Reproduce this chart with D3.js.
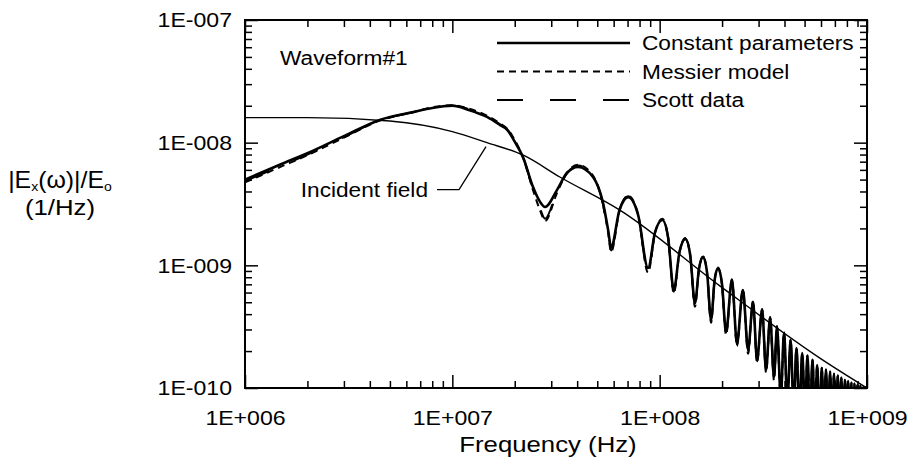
<!DOCTYPE html>
<html>
<head>
<meta charset="utf-8">
<script src="https://cdn.jsdelivr.net/npm/d3@7"></script>
<style>
  body { margin: 0; background: #fff; }
  svg { display: block; }
  text { font-family: "Liberation Sans", Arial, Helvetica, sans-serif; fill: #000; }
</style>
</head>
<body>
<svg id="chart" width="914" height="463"></svg>
<script>
// Axis ticks
const xTickValues = [1e6, 1e7, 1e8, 1e9];
const xTickLabels = ["1E+006", "1E+007", "1E+008", "1E+009"];
const yTickValues = [1e-10, 1e-9, 1e-8, 1e-7];
const yTickLabels = ["1E-010", "1E-009", "1E-008", "1E-007"];

// Incident field spectrum (Hz, 1/Hz)
const incidentFreq = [1e6, 2e6, 5e6, 1e7, 1.47e7, 2.2e7, 3.3e7, 6.4e7, 1.95e8, 6e8, 1e9];
const incidentMag  = [1.6e-8, 1.6e-8, 1.5e-8, 1.23e-8, 1.0e-8, 7.9e-9, 5.25e-9, 2.83e-9, 6.8e-10, 1.73e-10, 1.0e-10];

// Frequencies shared by the three response curves (Hz)
const responseFreq = [
  1e6, 1.5e6, 2e6, 3e6, 4.5e6, 6.5e6, 8e6, 1e7, 1.2e7, 1.47e7, 1.7e7, 1.84e7, 2.0e7, 2.19e7, 2.45e7, 2.65e7, 2.8e7,
  3.2e7, 3.57e7, 4.04e7, 4.77e7, 5.33e7, 5.64e7, 5.83e7, 6.41e7, 7.05e7, 7.87e7, 8.79e7, 9.51e7, 1.03e8, 1.098e8,
  1.17e8, 1.247e8, 1.33e8, 1.403e8, 1.48e8, 1.548e8, 1.62e8, 1.693e8, 1.77e8, 1.839e8, 1.91e8, 1.998e8, 2.09e8,
  2.23e8, 2.36e8, 2.52e8, 2.67e8, 2.82e8, 2.95e8, 3.12e8, 3.26e8, 3.41e8, 3.56e8, 3.68e8, 3.84e8,
  3.98e8, 4.13e8, 4.28e8, 4.43e8, 4.57e8, 4.72e8, 4.87e8, 5.02e8, 5.16e8, 5.31e8, 5.46e8, 5.61e8, 5.75e8, 5.90e8,
  6.05e8, 6.20e8, 6.34e8, 6.49e8, 6.64e8, 6.79e8, 6.93e8, 7.08e8, 7.23e8, 7.38e8, 7.52e8, 7.67e8, 7.82e8, 7.97e8,
  8.11e8, 8.26e8, 8.41e8, 8.56e8, 8.70e8, 8.85e8, 9.00e8, 9.15e8, 9.29e8, 9.44e8, 9.59e8, 9.74e8, 9.88e8, 1e9
];

// Constant parameters model (1/Hz)
const constantMag = [
  5.0e-9, 6.7e-9, 8.2e-9, 1.13e-8, 1.54e-8, 1.78e-8, 1.92e-8, 2.0e-8, 1.85e-8, 1.62e-8, 1.39e-8, 1.27e-8, 1.02e-8, 7.64e-9, 4.35e-9, 3.29e-9, 2.99e-9,
  4.12e-9, 5.66e-9, 6.34e-9, 5.25e-9, 3.23e-9, 1.95e-9, 1.41e-9, 2.85e-9, 3.6e-9, 2.58e-9, 9.5e-10, 1.87e-9, 2.34e-9, 1.69e-9,
  6.3e-10, 1.29e-9, 1.64e-9, 1.22e-9, 4.94e-10, 9.4e-10, 1.17e-9, 8.7e-10, 3.59e-10, 7.46e-10, 9.5e-10, 7.05e-10, 2.86e-10,
  7.6e-10, 2.33e-10, 6.3e-10, 2.05e-10, 5.04e-10, 1.69e-10, 4.33e-10, 1.41e-10, 3.73e-10, 1.23e-10, 3.15e-10, 8.5e-11,
  2.81e-10, 7.5e-11, 2.47e-10, 6.8e-11, 2.12e-10, 6.2e-11, 1.93e-10, 5.9e-11, 1.83e-10, 5.5e-11, 1.69e-10, 5.1e-11, 1.54e-10, 4.9e-11,
  1.46e-10, 4.7e-11, 1.40e-10, 4.5e-11, 1.35e-10, 4.4e-11, 1.30e-10, 4.3e-11, 1.26e-10, 4.2e-11, 1.21e-10, 4.1e-11, 1.16e-10, 4.0e-11,
  1.14e-10, 3.9e-11, 1.10e-10, 3.8e-11, 1.08e-10, 3.8e-11, 1.06e-10, 3.7e-11, 1.04e-10, 3.7e-11, 1.02e-10, 3.6e-11, 1.01e-10, 8e-11
];

// Messier model (1/Hz)
const messierMag = [
  4.75e-9, 6.4e-9, 7.9e-9, 1.1e-8, 1.52e-8, 1.78e-8, 1.94e-8, 2.02e-8, 1.9e-8, 1.66e-8, 1.43e-8, 1.3e-8, 1.05e-8, 7.6e-9, 4.1e-9, 2.8e-9, 2.3e-9,
  3.9e-9, 5.7e-9, 6.6e-9, 5.4e-9, 3.1e-9, 1.85e-9, 1.28e-9, 2.8e-9, 3.7e-9, 2.6e-9, 8.7e-10, 1.85e-9, 2.4e-9, 1.7e-9,
  5.9e-10, 1.28e-9, 1.67e-9, 1.22e-9, 4.6e-10, 9.3e-10, 1.19e-9, 8.7e-10, 3.4e-10, 7.4e-10, 9.6e-10, 7.0e-10, 2.7e-10,
  7.7e-10, 2.2e-10, 6.4e-10, 1.9e-10, 5.1e-10, 1.6e-10, 4.4e-10, 1.33e-10, 3.8e-10, 1.15e-10, 3.2e-10, 8.0e-11,
  2.85e-10, 7.2e-11, 2.5e-10, 6.6e-11, 2.15e-10, 6.0e-11, 1.95e-10, 5.7e-11, 1.85e-10, 5.3e-11, 1.71e-10, 5.0e-11, 1.56e-10, 4.8e-11,
  1.48e-10, 4.6e-11, 1.42e-10, 4.4e-11, 1.37e-10, 4.3e-11, 1.31e-10, 4.2e-11, 1.27e-10, 4.1e-11, 1.22e-10, 4.0e-11, 1.17e-10, 3.9e-11,
  1.15e-10, 3.8e-11, 1.11e-10, 3.7e-11, 1.09e-10, 3.7e-11, 1.07e-10, 3.6e-11, 1.05e-10, 3.6e-11, 1.03e-10, 3.5e-11, 1.02e-10, 8e-11
];

// Scott data (1/Hz)
const scottMag = [
  4.85e-9, 6.5e-9, 8.0e-9, 1.11e-8, 1.53e-8, 1.77e-8, 1.93e-8, 2.01e-8, 1.88e-8, 1.64e-8, 1.41e-8, 1.28e-8, 1.03e-8, 7.7e-9, 4.2e-9, 2.9e-9, 2.4e-9,
  4.0e-9, 5.6e-9, 6.5e-9, 5.3e-9, 3.15e-9, 1.9e-9, 1.32e-9, 2.85e-9, 3.65e-9, 2.55e-9, 9.0e-10, 1.87e-9, 2.36e-9, 1.68e-9,
  6.1e-10, 1.29e-9, 1.65e-9, 1.21e-9, 4.8e-10, 9.4e-10, 1.18e-9, 8.6e-10, 3.5e-10, 7.45e-10, 9.5e-10, 7.0e-10, 2.8e-10,
  7.6e-10, 2.25e-10, 6.3e-10, 2.0e-10, 5.0e-10, 1.65e-10, 4.3e-10, 1.37e-10, 3.7e-10, 1.2e-10, 3.1e-10, 8.2e-11,
  2.8e-10, 7.4e-11, 2.46e-10, 6.7e-11, 2.11e-10, 6.1e-11, 1.92e-10, 5.8e-11, 1.82e-10, 5.4e-11, 1.68e-10, 5.0e-11, 1.53e-10, 4.8e-11,
  1.45e-10, 4.6e-11, 1.39e-10, 4.4e-11, 1.34e-10, 4.3e-11, 1.29e-10, 4.2e-11, 1.25e-10, 4.1e-11, 1.20e-10, 4.0e-11, 1.15e-10, 3.9e-11,
  1.13e-10, 3.8e-11, 1.09e-10, 3.7e-11, 1.07e-10, 3.7e-11, 1.05e-10, 3.6e-11, 1.03e-10, 3.6e-11, 1.01e-10, 3.5e-11, 1.0e-10, 8e-11
];

const seriesNames = ["Constant parameters", "Messier model", "Scott data"];
const seriesDash = [null, "7,5", "26,27"];
const seriesWidth = [2.6, 2.0, 2.0];
const panelTitle = "Waveform#1";
const incidentLabel = "Incident field";
const incidentLabelIndex = 4;   // point on the incident curve the leader points to

const plot = { left: 245, right: 867, top: 20, bottom: 388 };
const FONT = 21;
const TITLE_FONT = 23;

const svg = d3.select("#chart");

const x = d3.scaleLog().domain([1e6, 1e9]).range([plot.left, plot.right]);
const y = d3.scaleLog().domain([1e-10, 1e-7]).range([plot.bottom, plot.top]);

// slightly wide lettering: move x/y into a transform and stretch horizontally
function widen(sel, k) {
  sel.each(function () {
    const t = d3.select(this);
    const tx = +t.attr("x") || 0, ty = +t.attr("y") || 0;
    t.attr("x", 0).attr("y", 0).attr("transform", `translate(${tx},${ty}) scale(${k},1)`);
  });
}

// minor ticks 2..9 per decade
function minorTicks(lo, hi) {
  const out = [];
  for (let e = Math.round(Math.log10(lo)); e < Math.round(Math.log10(hi)); e++)
    for (let k = 2; k <= 9; k++) out.push(k * Math.pow(10, e));
  return out;
}
const xMinor = minorTicks(1e6, 1e9);
const yMinor = minorTicks(1e-10, 1e-7);

function styleAxis(g) {
  g.select(".domain").remove();
  g.selectAll("line").attr("stroke", "#000").attr("stroke-width", 1.5);
  g.selectAll("text").style("font-size", FONT + "px").attr("fill", "#000").call(widen, 1.1);
}

// bottom
svg.append("g").attr("transform", `translate(0,${plot.bottom})`)
  .call(d3.axisBottom(x).tickValues(xTickValues).tickSize(-13).tickSizeOuter(0).tickPadding(22)
    .tickFormat((d, i) => xTickLabels[i]))
  .call(styleAxis);
svg.append("g").attr("transform", `translate(0,${plot.bottom})`)
  .call(d3.axisBottom(x).tickValues(xMinor).tickSize(-7).tickSizeOuter(0).tickFormat(""))
  .call(styleAxis);
// top
svg.append("g").attr("transform", `translate(0,${plot.top})`)
  .call(d3.axisTop(x).tickValues(xTickValues).tickSize(-13).tickSizeOuter(0).tickFormat(""))
  .call(styleAxis);
svg.append("g").attr("transform", `translate(0,${plot.top})`)
  .call(d3.axisTop(x).tickValues(xMinor).tickSize(-7).tickSizeOuter(0).tickFormat(""))
  .call(styleAxis);
// left
svg.append("g").attr("transform", `translate(${plot.left},0)`)
  .call(d3.axisLeft(y).tickValues(yTickValues).tickSize(-13).tickSizeOuter(0).tickPadding(13)
    .tickFormat((d, i) => yTickLabels[i]))
  .call(styleAxis);
svg.append("g").attr("transform", `translate(${plot.left},0)`)
  .call(d3.axisLeft(y).tickValues(yMinor).tickSize(-7).tickSizeOuter(0).tickFormat(""))
  .call(styleAxis);
// right
svg.append("g").attr("transform", `translate(${plot.right},0)`)
  .call(d3.axisRight(y).tickValues(yTickValues).tickSize(-13).tickSizeOuter(0).tickFormat(""))
  .call(styleAxis);
svg.append("g").attr("transform", `translate(${plot.right},0)`)
  .call(d3.axisRight(y).tickValues(yMinor).tickSize(-7).tickSizeOuter(0).tickFormat(""))
  .call(styleAxis);

// frame
svg.append("rect")
  .attr("x", plot.left).attr("y", plot.top)
  .attr("width", plot.right - plot.left).attr("height", plot.bottom - plot.top)
  .attr("fill", "none").attr("stroke", "#000").attr("stroke-width", 2);

// clip for curves
svg.append("clipPath").attr("id", "plotClip")
  .append("rect")
  .attr("x", plot.left).attr("y", plot.top)
  .attr("width", plot.right - plot.left).attr("height", plot.bottom - plot.top);

const line = d3.line()
  .x(d => x(d[0]))
  .y(d => y(d[1]))
  .curve(d3.curveMonotoneX);

const curves = svg.append("g").attr("clip-path", "url(#plotClip)");

// incident field
curves.append("path")
  .datum(incidentFreq.map((f, i) => [f, incidentMag[i]]))
  .attr("d", line)
  .attr("fill", "none").attr("stroke", "#000").attr("stroke-width", 1.4);

// responses
const seriesData = [constantMag, messierMag, scottMag];
seriesData.forEach((mag, s) => {
  curves.append("path")
    .datum(responseFreq.map((f, i) => [f, mag[i]]))
    .attr("d", line)
    .attr("fill", "none")
    .attr("stroke", "#000")
    .attr("stroke-width", seriesWidth[s])
    .attr("stroke-linejoin", "round")
    .attr("stroke-dasharray", seriesDash[s]);
});

// legend
const legend = svg.append("g").attr("transform", "translate(497,43)");
seriesNames.forEach((name, i) => {
  const row = legend.append("g").attr("transform", `translate(0,${i * 28.5})`);
  row.append("line").attr("x1", 0).attr("x2", 133).attr("y1", 0).attr("y2", 0)
    .attr("stroke", "#000").attr("stroke-width", i === 0 ? 2.6 : 2)
    .attr("stroke-dasharray", seriesDash[i]);
  row.append("text").attr("x", 145).attr("y", 0).attr("dy", "0.35em")
    .style("font-size", FONT + "px").text(name).call(widen, 1.08);
});

// panel title
svg.append("text").attr("x", 280).attr("y", 65)
  .style("font-size", FONT + "px").text(panelTitle).call(widen, 1.08);

// incident field annotation with leader line
const ax = x(incidentFreq[incidentLabelIndex]);
const ay = y(incidentMag[incidentLabelIndex]);
svg.append("polyline")
  .attr("points", [[ax - 50, ay + 47], [ax - 28, ay + 47], [ax - 1, ay + 4]].map(p => p.join(",")).join(" "))
  .attr("fill", "none").attr("stroke", "#000").attr("stroke-width", 1.3);
svg.append("text").attr("x", ax - 59).attr("y", ay + 54)
  .attr("text-anchor", "end")
  .style("font-size", FONT + "px").text(incidentLabel).call(widen, 1.08);

// axis titles
svg.append("text").attr("x", (plot.left + plot.right) / 2 - 8).attr("y", 452)
  .attr("text-anchor", "middle").style("font-size", TITLE_FONT + "px").text("Frequency (Hz)")
  .call(widen, 1.12);

const yTitle = svg.append("text").attr("x", 60).attr("y", 188)
  .attr("text-anchor", "middle").style("font-size", TITLE_FONT + "px");
yTitle.append("tspan").text("|E");
yTitle.append("tspan").attr("dy", 3).style("font-size", "13px").text("x");
yTitle.append("tspan").attr("dy", -3).text("(ω)|/E");
yTitle.append("tspan").attr("dy", 3).style("font-size", "13px").text("o");
yTitle.call(widen, 1.08);
svg.append("text").attr("x", 60).attr("y", 215)
  .attr("text-anchor", "middle").style("font-size", TITLE_FONT + "px").text("(1/Hz)")
  .call(widen, 1.12);
</script>
</body>
</html>
